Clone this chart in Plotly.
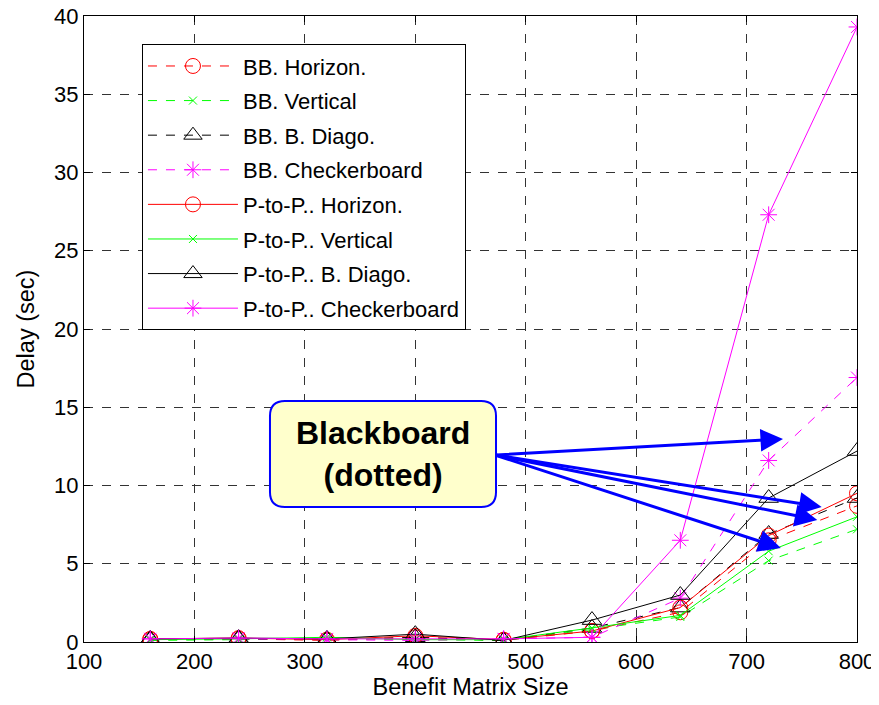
import plotly.graph_objects as go

sizes = [160, 240, 320, 400, 480, 560, 640, 720, 800]

bb_horizon = [0.15, 0.2, 0.1, 0.3, 0.1, 0.7, 1.9, 6.5, 8.7]
bb_vertical = [0.1, 0.15, 0.2, 0.15, 0.1, 0.8, 1.6, 5.2, 7.2]
bb_diago = [0.15, 0.2, 0.15, 0.3, 0.1, 0.9, 2.2, 6.9, 9.2]
bb_checker = [0.2, 0.2, 0.15, 0.1, 0.2, 0.3, 2.8, 11.6, 16.9]

pp_horizon = [0.2, 0.25, 0.15, 0.4, 0.15, 0.7, 2.2, 6.8, 9.5]
pp_vertical = [0.15, 0.2, 0.3, 0.15, 0.15, 0.9, 1.7, 5.8, 8.0]
pp_diago = [0.2, 0.25, 0.2, 0.5, 0.1, 1.4, 3.0, 9.2, 12.2]
pp_checker = [0.2, 0.25, 0.2, 0.2, 0.2, 0.3, 6.5, 27.3, 39.3]

names = ["BB. Horizon.", "BB. Vertical", "BB. B. Diago.", "BB. Checkerboard",
         "P-to-P.. Horizon.", "P-to-P.. Vertical", "P-to-P.. B. Diago.", "P-to-P.. Checkerboard"]
series = [bb_horizon, bb_vertical, bb_diago, bb_checker,
          pp_horizon, pp_vertical, pp_diago, pp_checker]
colors = ["#FF0000", "#00FF00", "#000000", "#FF00FF"] * 2
symbols = ["circle-open", "x-thin-open", "triangle-up-open", "asterisk-open"] * 2
msizes = [15, 8, 17, 14] * 2
dashes = ["dash"] * 4 + ["solid"] * 4

fig = go.Figure()
for i, (n, s) in enumerate(zip(names, series)):
    fig.add_trace(go.Scatter(
        x=sizes, y=s, name=n, mode="lines+markers", legendgroup=str(i),
        line=dict(color=colors[i], width=1, dash=dashes[i]),
        marker=dict(symbol=symbols[i], size=msizes[i], color=colors[i],
                    line=dict(width=1, color=colors[i])),
    ))

font = "Liberation Sans, Arial, Helvetica, sans-serif"
axis_common = dict(
    showline=True, linecolor="black", linewidth=1, mirror="ticks",
    ticks="inside", ticklen=6, tickcolor="black",
    showgrid=True, gridcolor="#333333", griddash="dash", gridwidth=1,
    zeroline=False, automargin=False, ticklabeloverflow="allow",
    tickfont=dict(size=22, color="black", family=font),
)

# the page body adds an 8px offset, so the figure is 8px smaller and shifted
fig.update_layout(
    width=871, height=697,
    margin=dict(l=76, r=22, t=8, b=63),
    paper_bgcolor="white", plot_bgcolor="white",
    font=dict(family=font, color="black"),
    showlegend=True,
    legend=dict(
        x=0.075, y=0.955, xanchor="left", yanchor="top",
        bgcolor="white", bordercolor="black", borderwidth=1,
        font=dict(size=22, color="black", family=font),
        traceorder="grouped", tracegroupgap=3, itemwidth=90,
    ),
    xaxis=dict(range=[100, 800], dtick=100, tick0=100,
               title=dict(text="Benefit Matrix Size", font=dict(size=23.5, family=font), standoff=5),
               **axis_common),
    yaxis=dict(range=[0, 40], dtick=5,
               title=dict(text="Delay (sec)", font=dict(size=23.5, family=font), standoff=12),
               **axis_common),
)

# rounded callout box (paper coords)
x0, x1, y0, y1 = 0.2406, 0.533, 0.2157, 0.385
rx, ry = 0.0194, 0.024
path = (f"M {x0+rx},{y0} L {x1-rx},{y0} Q {x1},{y0} {x1},{y0+ry} "
        f"L {x1},{y1-ry} Q {x1},{y1} {x1-rx},{y1} L {x0+rx},{y1} "
        f"Q {x0},{y1} {x0},{y1-ry} L {x0},{y0+ry} Q {x0},{y0} {x0+rx},{y0} Z")
fig.add_shape(type="path", path=path, xref="paper", yref="paper",
              fillcolor="#FFFFCC", line=dict(color="#0000FF", width=2), layer="above")

fig.add_annotation(x=(x0 + x1) / 2, y=(y0 + y1) / 2, xref="paper", yref="paper",
                   xanchor="center", yanchor="middle",
                   text="<b>Blackboard<br>(dotted)</b>", showarrow=False,
                   font=dict(size=32, color="black", family=font), align="center")

# arrows: tips in data coords, tails at box right edge
arrow_tips = [(733, 12.97), (768, 8.63), (764, 7.8), (731, 6.0)]
tail_px = (495, 455)
for tx, ty in arrow_tips:
    px = 84 + (tx - 100) / 700 * 773
    py = 642 - ty / 40 * 626
    fig.add_annotation(x=tx, y=ty, xref="x", yref="y", text="", showarrow=True,
                       ax=tail_px[0] - px, ay=tail_px[1] - py,
                       arrowhead=2, arrowsize=1.5, arrowwidth=3, arrowcolor="#0000FF",
                       standoff=0)

fig.write_html("out.html")
